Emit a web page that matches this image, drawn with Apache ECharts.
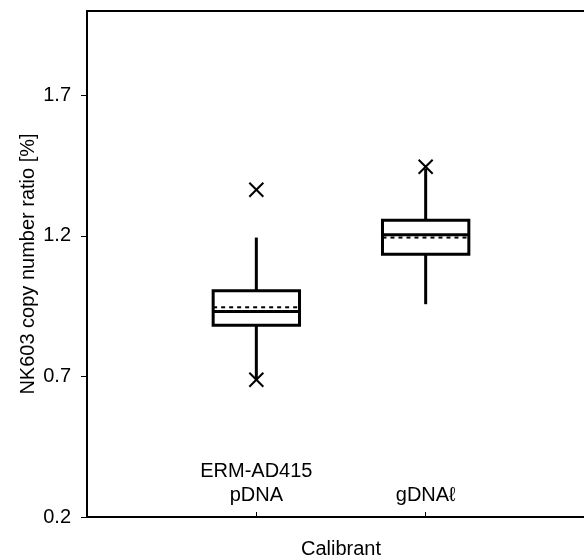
<!DOCTYPE html>
<html style="height: 100%">
<head>
<meta charset="utf-8">
</head>
<body style="height: 100%; margin: 0">
<div id="container" style="width: 584px; height: 558px"></div>
<script src="https://cdn.jsdelivr.net/npm/echarts@6/dist/echarts.min.js"></script>
<script type="text/javascript">
var categories = ['ERM-AD415\npDNA', 'gDNA\u2113'];
var positions = [1, 2];
var whiskerLow = [0.685, 0.957];
var q1 = [0.882, 1.135];
var median = [0.931, 1.204];
var q3 = [1.005, 1.256];
var whiskerHigh = [1.194, 1.44];
var means = [0.946, 1.194];
var outlierPos = [1, 1, 2];
var outlierVal = [1.364, 0.688, 1.446];
var yTicks = [0.2, 0.7, 1.2, 1.7];

var font = "'Liberation Sans', Arial, sans-serif";
var boxWidth = 0.51;

var boxData = [];
for (var i = 0; i < positions.length; i++) {
    boxData.push([positions[i], whiskerLow[i], q1[i], median[i], q3[i], whiskerHigh[i], means[i]]);
}
var outlierData = [];
for (var i = 0; i < outlierPos.length; i++) {
    outlierData.push([outlierPos[i], outlierVal[i]]);
}

function line(p1, p2, style) {
    return { type: 'line', shape: { x1: p1[0], y1: p1[1], x2: p2[0], y2: p2[1] }, style: style };
}

function renderBox(params, api) {
    var x = api.value(0);
    var half = api.size([boxWidth, 0])[0] / 2;
    var pLow = api.coord([x, api.value(1)]);
    var pQ1 = api.coord([x, api.value(2)]);
    var pMed = api.coord([x, api.value(3)]);
    var pQ3 = api.coord([x, api.value(4)]);
    var pHigh = api.coord([x, api.value(5)]);
    var pMean = api.coord([x, api.value(6)]);
    var solid = { stroke: '#000', lineWidth: 3, fill: null };
    return {
        type: 'group',
        children: [
            line(pQ1, pLow, solid),
            line(pQ3, pHigh, solid),
            { type: 'rect', shape: { x: pQ3[0] - half, y: pQ3[1], width: half * 2, height: pQ1[1] - pQ3[1] },
              style: { stroke: '#000', lineWidth: 3, fill: 'none' } },
            line([pMed[0] - half, pMed[1]], [pMed[0] + half, pMed[1]], solid),
            line([pMean[0] - half, pMean[1]], [pMean[0] + half, pMean[1]],
                 { stroke: '#000', lineWidth: 2, lineDash: [4, 4] })
        ]
    };
}

function renderCross(params, api) {
    var p = api.coord([api.value(0), api.value(1)]);
    var s = 7;
    var st = { stroke: '#000', lineWidth: 2 };
    return {
        type: 'group',
        children: [
            line([p[0] - s, p[1] - s], [p[0] + s, p[1] + s], st),
            line([p[0] - s, p[1] + s], [p[0] + s, p[1] - s], st)
        ]
    };
}

var chart = echarts.init(document.getElementById('container'));
var option = {
    animation: false,
    backgroundColor: '#fff',
    grid: {
        left: 87, right: -11, top: 11, bottom: 41,
        show: true, borderColor: '#000', borderWidth: 2,
        outerBoundsMode: 'none'
    },
    xAxis: {
        type: 'value',
        min: 0,
        max: 3,
        name: 'Calibrant',
        nameLocation: 'middle',
        nameGap: 22,
        nameTextStyle: { fontSize: 20, color: '#000', fontFamily: font },
        axisLine: { lineStyle: { color: '#000', width: 2 } },
        axisTick: { inside: true, length: 5, customValues: positions, lineStyle: { color: '#000', width: 1 } },
        axisLabel: {
            inside: true,
            margin: 10,
            customValues: positions,
            fontSize: 20,
            lineHeight: 24,
            color: '#000',
            fontFamily: font,
            formatter: function (v) {
                return categories[positions.indexOf(v)];
            }
        },
        splitLine: { show: false }
    },
    yAxis: {
        type: 'value',
        min: 0.2,
        max: 2.0,
        name: 'NK603 copy number ratio [%]',
        nameLocation: 'middle',
        nameGap: 49,
        nameMoveOverlap: false,
        nameTextStyle: { fontSize: 20, color: '#000', fontFamily: font },
        axisLine: { show: true, lineStyle: { color: '#000', width: 2 } },
        axisTick: { show: true, length: 6, customValues: yTicks, lineStyle: { color: '#000', width: 1 } },
        axisLabel: {
            margin: 16,
            customValues: yTicks,
            fontSize: 20,
            color: '#000',
            fontFamily: font,
            formatter: function (v) { return v.toFixed(1); }
        },
        splitLine: { show: false }
    },
    series: [
        {
            type: 'custom',
            renderItem: renderBox,
            encode: { x: 0, y: [1, 2, 3, 4, 5, 6] },
            data: boxData
        },
        {
            type: 'custom',
            renderItem: renderCross,
            encode: { x: 0, y: 1 },
            data: outlierData
        }
    ]
};
chart.setOption(option);
</script>
</body>
</html>
